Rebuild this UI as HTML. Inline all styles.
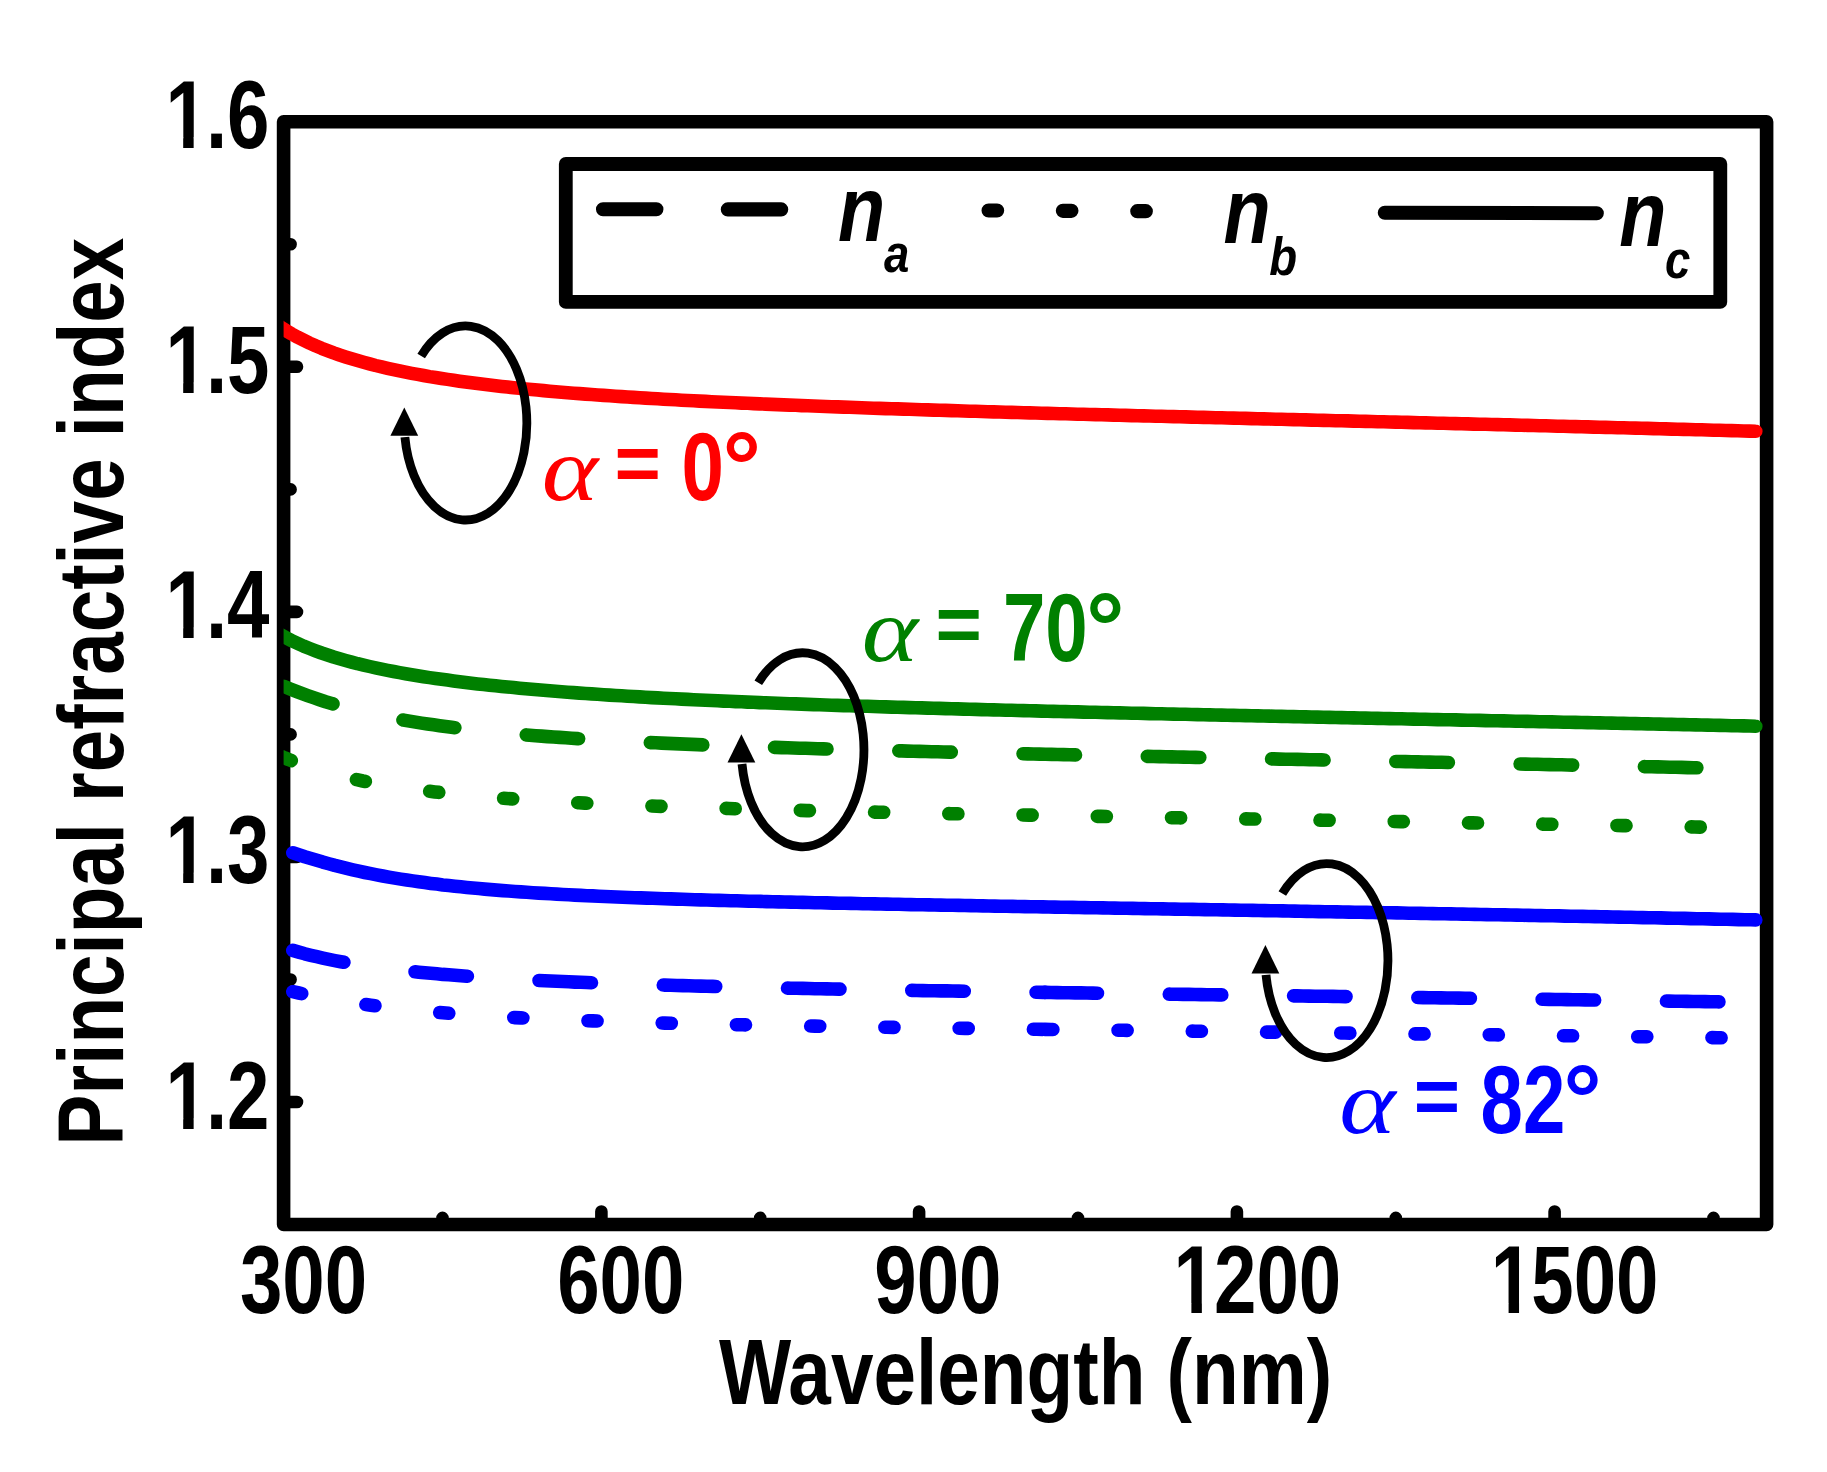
<!DOCTYPE html>
<html lang="en"><head><meta charset="utf-8"><title>Principal refractive index</title>
<style>html,body{margin:0;padding:0;background:#fff}svg{display:block}text{font-family:"Liberation Sans",sans-serif;font-weight:bold}.s{font-family:"Liberation Serif",serif;font-style:italic;font-weight:normal}.i{font-style:italic}.c{fill:none;stroke-width:13.6;stroke-linecap:round;stroke-linejoin:round}</style></head><body>
<svg width="1827" height="1472" viewBox="0 0 1827 1472">
<rect width="1827" height="1472" fill="#fff"/>
<defs><clipPath id="cp"><rect x="283.6" y="100" width="1500" height="1140"/></clipPath><clipPath id="c1"><path clip-rule="evenodd" d="M-10,-100H400V40H-10Z M4,-10.4H22.52V2H4Z M35.76,-10.4H53V2H35.76Z"/></clipPath></defs>
<rect x="283.6" y="121.8" width="1483.0" height="1102.7" fill="none" stroke="#000" stroke-width="13.6" stroke-linejoin="round"/>
<path d="M283.6,366.8h13.4 M283.6,611.9h13.4 M283.6,856.9h13.4 M283.6,1102.0h13.4 M283.6,244.3h7 M283.6,489.4h7 M283.6,734.4h7 M283.6,979.5h7 M601.4,1224.5v-13 M919.1,1224.5v-13 M1236.9,1224.5v-13 M1554.6,1224.5v-13 M442.5,1224.5v-6.6 M760.2,1224.5v-6.6 M1078.0,1224.5v-6.6 M1395.8,1224.5v-6.6 M1713.5,1224.5v-6.6" stroke="#000" stroke-width="12.6" stroke-linecap="round" fill="none"/>
<g clip-path="url(#cp)">
<path class="c" stroke="#f00" d="M273.6,322.4 L279.6,326.5 L285.6,330.3 L291.6,333.9 L297.6,337.2 L303.6,340.2 L309.6,343.1 L315.6,345.8 L321.6,348.3 L327.6,350.6 L333.6,352.9 L339.6,355.0 L345.6,356.9 L351.6,358.8 L357.6,360.6 L363.6,362.3 L369.6,363.9 L375.6,365.5 L381.6,366.9 L387.6,368.3 L393.6,369.6 L399.6,370.9 L405.6,372.1 L411.6,373.3 L417.6,374.4 L423.6,375.5 L429.6,376.6 L435.6,377.5 L441.6,378.5 L447.6,379.4 L453.6,380.3 L459.6,381.2 L465.6,382.0 L471.6,382.8 L477.6,383.6 L483.6,384.3 L489.6,385.0 L495.6,385.7 L501.6,386.4 L507.6,387.1 L513.6,387.7 L519.6,388.3 L525.6,388.9 L531.6,389.5 L537.6,390.1 L543.6,390.6 L549.6,391.2 L555.6,391.7 L561.6,392.2 L567.6,392.7 L573.6,393.2 L579.6,393.6 L585.6,394.1 L591.6,394.5 L597.6,395.0 L603.6,395.4 L609.6,395.8 L615.6,396.2 L621.6,396.6 L627.6,397.0 L633.6,397.4 L639.6,397.8 L645.6,398.1 L651.6,398.5 L657.6,398.8 L663.6,399.2 L669.6,399.5 L675.6,399.8 L681.6,400.2 L687.6,400.5 L693.6,400.8 L699.6,401.1 L705.6,401.4 L711.6,401.7 L717.6,402.0 L723.6,402.3 L729.6,402.5 L735.6,402.8 L741.6,403.1 L747.6,403.3 L753.6,403.6 L759.6,403.9 L765.6,404.1 L771.6,404.4 L777.6,404.6 L783.6,404.9 L789.6,405.1 L795.6,405.3 L801.6,405.6 L807.6,405.8 L813.6,406.0 L819.6,406.2 L825.6,406.5 L831.6,406.7 L837.6,406.9 L843.6,407.1 L849.6,407.3 L855.6,407.5 L861.6,407.7 L867.6,408.0 L873.6,408.2 L879.6,408.4 L885.6,408.6 L891.6,408.7 L897.6,408.9 L903.6,409.1 L909.6,409.3 L915.6,409.5 L921.6,409.7 L927.6,409.9 L933.6,410.1 L939.6,410.3 L945.6,410.4 L951.6,410.6 L957.6,410.8 L963.6,411.0 L969.6,411.2 L975.6,411.3 L981.6,411.5 L987.6,411.7 L993.6,411.9 L999.6,412.0 L1005.6,412.2 L1011.6,412.4 L1017.6,412.5 L1023.6,412.7 L1029.6,412.9 L1035.6,413.0 L1041.6,413.2 L1047.6,413.4 L1053.6,413.5 L1059.6,413.7 L1065.6,413.8 L1071.6,414.0 L1077.6,414.2 L1083.6,414.3 L1089.6,414.5 L1095.6,414.6 L1101.6,414.8 L1107.6,414.9 L1113.6,415.1 L1119.6,415.3 L1125.6,415.4 L1131.6,415.6 L1137.6,415.7 L1143.6,415.9 L1149.6,416.0 L1155.6,416.2 L1161.6,416.3 L1167.6,416.5 L1173.6,416.6 L1179.6,416.8 L1185.6,416.9 L1191.6,417.1 L1197.6,417.2 L1203.6,417.4 L1209.6,417.5 L1215.6,417.7 L1221.6,417.8 L1227.6,418.0 L1233.6,418.1 L1239.6,418.3 L1245.6,418.4 L1251.6,418.6 L1257.6,418.7 L1263.6,418.9 L1269.6,419.0 L1275.6,419.2 L1281.6,419.3 L1287.6,419.5 L1293.6,419.6 L1299.6,419.8 L1305.6,419.9 L1311.6,420.1 L1317.6,420.2 L1323.6,420.4 L1329.6,420.5 L1335.6,420.7 L1341.6,420.8 L1347.6,420.9 L1353.6,421.1 L1359.6,421.2 L1365.6,421.4 L1371.6,421.5 L1377.6,421.7 L1383.6,421.8 L1389.6,422.0 L1395.6,422.1 L1401.6,422.3 L1407.6,422.4 L1413.6,422.6 L1419.6,422.7 L1425.6,422.9 L1431.6,423.0 L1437.6,423.2 L1443.6,423.3 L1449.6,423.5 L1455.6,423.6 L1461.6,423.8 L1467.6,423.9 L1473.6,424.1 L1479.6,424.2 L1485.6,424.3 L1491.6,424.5 L1497.6,424.6 L1503.6,424.8 L1509.6,424.9 L1515.6,425.1 L1521.6,425.2 L1527.6,425.4 L1533.6,425.5 L1539.6,425.7 L1545.6,425.8 L1551.6,426.0 L1557.6,426.2 L1563.6,426.3 L1569.6,426.5 L1575.6,426.6 L1581.6,426.8 L1587.6,426.9 L1593.6,427.1 L1599.6,427.2 L1605.6,427.4 L1611.6,427.5 L1617.6,427.7 L1623.6,427.8 L1629.6,428.0 L1635.6,428.1 L1641.6,428.3 L1647.6,428.4 L1653.6,428.6 L1659.6,428.8 L1665.6,428.9 L1671.6,429.1 L1677.6,429.2 L1683.6,429.4 L1689.6,429.5 L1695.6,429.7 L1701.6,429.8 L1707.6,430.0 L1713.6,430.2 L1719.6,430.3 L1725.6,430.5 L1731.6,430.6 L1737.6,430.8 L1743.6,431.0 L1749.6,431.1 L1755.6,431.3 L1755.8,431.3"/>
<path class="c" stroke="#008000" d="M273.6,630.5 L279.6,634.1 L285.6,637.5 L291.6,640.6 L297.6,643.4 L303.6,646.1 L309.6,648.5 L315.6,650.8 L321.6,653.0 L327.6,655.0 L333.6,657.0 L339.6,658.8 L345.6,660.5 L351.6,662.1 L357.6,663.7 L363.6,665.1 L369.6,666.5 L375.6,667.8 L381.6,669.1 L387.6,670.3 L393.6,671.5 L399.6,672.6 L405.6,673.7 L411.6,674.7 L417.6,675.7 L423.6,676.7 L429.6,677.6 L435.6,678.5 L441.6,679.3 L447.6,680.1 L453.6,680.9 L459.6,681.7 L465.6,682.5 L471.6,683.2 L477.6,683.9 L483.6,684.5 L489.6,685.2 L495.6,685.8 L501.6,686.4 L507.6,687.0 L513.6,687.6 L519.6,688.2 L525.6,688.7 L531.6,689.3 L537.6,689.8 L543.6,690.3 L549.6,690.8 L555.6,691.3 L561.6,691.7 L567.6,692.2 L573.6,692.6 L579.6,693.1 L585.6,693.5 L591.6,693.9 L597.6,694.3 L603.6,694.7 L609.6,695.1 L615.6,695.5 L621.6,695.8 L627.6,696.2 L633.6,696.5 L639.6,696.9 L645.6,697.2 L651.6,697.6 L657.6,697.9 L663.6,698.2 L669.6,698.5 L675.6,698.8 L681.6,699.1 L687.6,699.4 L693.6,699.7 L699.6,700.0 L705.6,700.3 L711.6,700.5 L717.6,700.8 L723.6,701.1 L729.6,701.3 L735.6,701.6 L741.6,701.8 L747.6,702.1 L753.6,702.3 L759.6,702.6 L765.6,702.8 L771.6,703.0 L777.6,703.3 L783.6,703.5 L789.6,703.7 L795.6,703.9 L801.6,704.1 L807.6,704.4 L813.6,704.6 L819.6,704.8 L825.6,705.0 L831.6,705.2 L837.6,705.4 L843.6,705.6 L849.6,705.8 L855.6,706.0 L861.6,706.2 L867.6,706.3 L873.6,706.5 L879.6,706.7 L885.6,706.9 L891.6,707.1 L897.6,707.3 L903.6,707.4 L909.6,707.6 L915.6,707.8 L921.6,707.9 L927.6,708.1 L933.6,708.3 L939.6,708.4 L945.6,708.6 L951.6,708.8 L957.6,708.9 L963.6,709.1 L969.6,709.3 L975.6,709.4 L981.6,709.6 L987.6,709.7 L993.6,709.9 L999.6,710.0 L1005.6,710.2 L1011.6,710.3 L1017.6,710.5 L1023.6,710.6 L1029.6,710.8 L1035.6,710.9 L1041.6,711.1 L1047.6,711.2 L1053.6,711.4 L1059.6,711.5 L1065.6,711.6 L1071.6,711.8 L1077.6,711.9 L1083.6,712.1 L1089.6,712.2 L1095.6,712.3 L1101.6,712.5 L1107.6,712.6 L1113.6,712.8 L1119.6,712.9 L1125.6,713.0 L1131.6,713.2 L1137.6,713.3 L1143.6,713.4 L1149.6,713.6 L1155.6,713.7 L1161.6,713.8 L1167.6,714.0 L1173.6,714.1 L1179.6,714.2 L1185.6,714.3 L1191.6,714.5 L1197.6,714.6 L1203.6,714.7 L1209.6,714.9 L1215.6,715.0 L1221.6,715.1 L1227.6,715.2 L1233.6,715.4 L1239.6,715.5 L1245.6,715.6 L1251.6,715.7 L1257.6,715.9 L1263.6,716.0 L1269.6,716.1 L1275.6,716.3 L1281.6,716.4 L1287.6,716.5 L1293.6,716.6 L1299.6,716.7 L1305.6,716.9 L1311.6,717.0 L1317.6,717.1 L1323.6,717.2 L1329.6,717.4 L1335.6,717.5 L1341.6,717.6 L1347.6,717.7 L1353.6,717.9 L1359.6,718.0 L1365.6,718.1 L1371.6,718.2 L1377.6,718.4 L1383.6,718.5 L1389.6,718.6 L1395.6,718.7 L1401.6,718.8 L1407.6,719.0 L1413.6,719.1 L1419.6,719.2 L1425.6,719.3 L1431.6,719.5 L1437.6,719.6 L1443.6,719.7 L1449.6,719.8 L1455.6,719.9 L1461.6,720.1 L1467.6,720.2 L1473.6,720.3 L1479.6,720.4 L1485.6,720.6 L1491.6,720.7 L1497.6,720.8 L1503.6,720.9 L1509.6,721.0 L1515.6,721.2 L1521.6,721.3 L1527.6,721.4 L1533.6,721.5 L1539.6,721.7 L1545.6,721.8 L1551.6,721.9 L1557.6,722.0 L1563.6,722.2 L1569.6,722.3 L1575.6,722.4 L1581.6,722.5 L1587.6,722.6 L1593.6,722.8 L1599.6,722.9 L1605.6,723.0 L1611.6,723.1 L1617.6,723.3 L1623.6,723.4 L1629.6,723.5 L1635.6,723.6 L1641.6,723.8 L1647.6,723.9 L1653.6,724.0 L1659.6,724.1 L1665.6,724.3 L1671.6,724.4 L1677.6,724.5 L1683.6,724.6 L1689.6,724.8 L1695.6,724.9 L1701.6,725.0 L1707.6,725.1 L1713.6,725.3 L1719.6,725.4 L1725.6,725.5 L1731.6,725.7 L1737.6,725.8 L1743.6,725.9 L1749.6,726.0 L1755.6,726.2 L1755.8,726.2"/>
<path class="c" stroke="#008000" stroke-dasharray="52.5 71.8" d="M283.6,686.2 L289.6,688.7 L295.6,691.1 L301.6,693.4 L307.6,695.6 L313.6,697.7 L319.6,699.7 L325.6,701.7 L331.6,703.5 L337.6,705.2 L343.6,706.9 L349.6,708.5 L355.6,710.1 L361.6,711.5 L367.6,712.9 L373.6,714.2 L379.6,715.5 L385.6,716.7 L391.6,717.9 L397.6,719.0 L403.6,720.1 L409.6,721.1 L415.6,722.1 L421.6,723.1 L427.6,724.0 L433.6,724.8 L439.6,725.7 L445.6,726.5 L451.6,727.3 L457.6,728.0 L463.6,728.7 L469.6,729.4 L475.6,730.1 L481.6,730.7 L487.6,731.4 L493.6,732.0 L499.6,732.5 L505.6,733.1 L511.6,733.7 L517.6,734.2 L523.6,734.7 L529.6,735.2 L535.6,735.7 L541.6,736.1 L547.6,736.6 L553.6,737.0 L559.6,737.4 L565.6,737.8 L571.6,738.2 L577.6,738.6 L583.6,739.0 L589.6,739.4 L595.6,739.7 L601.6,740.1 L607.6,740.4 L613.6,740.7 L619.6,741.1 L625.6,741.4 L631.6,741.7 L637.6,742.0 L643.6,742.3 L649.6,742.6 L655.6,742.8 L661.6,743.1 L667.6,743.4 L673.6,743.6 L679.6,743.9 L685.6,744.1 L691.6,744.4 L697.6,744.6 L703.6,744.9 L709.6,745.1 L715.6,745.3 L721.6,745.6 L727.6,745.8 L733.6,746.0 L739.6,746.2 L745.6,746.4 L751.6,746.6 L757.6,746.8 L763.6,747.0 L769.6,747.2 L775.6,747.4 L781.6,747.6 L787.6,747.8 L793.6,748.0 L799.6,748.2 L805.6,748.3 L811.6,748.5 L817.6,748.7 L823.6,748.9 L829.6,749.0 L835.6,749.2 L841.6,749.4 L847.6,749.5 L853.6,749.7 L859.6,749.9 L865.6,750.0 L871.6,750.2 L877.6,750.3 L883.6,750.5 L889.6,750.6 L895.6,750.8 L901.6,750.9 L907.6,751.1 L913.6,751.2 L919.6,751.4 L925.6,751.5 L931.6,751.7 L937.6,751.8 L943.6,752.0 L949.6,752.1 L955.6,752.2 L961.6,752.4 L967.6,752.5 L973.6,752.7 L979.6,752.8 L985.6,752.9 L991.6,753.1 L997.6,753.2 L1003.6,753.3 L1009.6,753.5 L1015.6,753.6 L1021.6,753.7 L1027.6,753.9 L1033.6,754.0 L1039.6,754.1 L1045.6,754.3 L1051.6,754.4 L1057.6,754.5 L1063.6,754.6 L1069.6,754.8 L1075.6,754.9 L1081.6,755.0 L1087.6,755.1 L1093.6,755.3 L1099.6,755.4 L1105.6,755.5 L1111.6,755.6 L1117.6,755.8 L1123.6,755.9 L1129.6,756.0 L1135.6,756.1 L1141.6,756.3 L1147.6,756.4 L1153.6,756.5 L1159.6,756.6 L1165.6,756.8 L1171.6,756.9 L1177.6,757.0 L1183.6,757.1 L1189.6,757.2 L1195.6,757.4 L1201.6,757.5 L1207.6,757.6 L1213.6,757.7 L1219.6,757.9 L1225.6,758.0 L1231.6,758.1 L1237.6,758.2 L1243.6,758.3 L1249.6,758.5 L1255.6,758.6 L1261.6,758.7 L1267.6,758.8 L1273.6,758.9 L1279.6,759.1 L1285.6,759.2 L1291.6,759.3 L1297.6,759.4 L1303.6,759.5 L1309.6,759.7 L1315.6,759.8 L1321.6,759.9 L1327.6,760.0 L1333.6,760.1 L1339.6,760.3 L1345.6,760.4 L1351.6,760.5 L1357.6,760.6 L1363.6,760.8 L1369.6,760.9 L1375.6,761.0 L1381.6,761.1 L1387.6,761.2 L1393.6,761.4 L1399.6,761.5 L1405.6,761.6 L1411.6,761.7 L1417.6,761.9 L1423.6,762.0 L1429.6,762.1 L1435.6,762.2 L1441.6,762.3 L1447.6,762.5 L1453.6,762.6 L1459.6,762.7 L1465.6,762.8 L1471.6,763.0 L1477.6,763.1 L1483.6,763.2 L1489.6,763.3 L1495.6,763.5 L1501.6,763.6 L1507.6,763.7 L1513.6,763.8 L1519.6,764.0 L1525.6,764.1 L1531.6,764.2 L1537.6,764.3 L1543.6,764.5 L1549.6,764.6 L1555.6,764.7 L1561.6,764.8 L1567.6,765.0 L1573.6,765.1 L1579.6,765.2 L1585.6,765.4 L1591.6,765.5 L1597.6,765.6 L1603.6,765.7 L1609.6,765.9 L1615.6,766.0 L1621.6,766.1 L1627.6,766.3 L1633.6,766.4 L1639.6,766.5 L1645.6,766.7 L1651.6,766.8 L1657.6,766.9 L1663.6,767.0 L1669.6,767.2 L1675.6,767.3 L1681.6,767.4 L1687.6,767.6 L1693.6,767.7 L1699.6,767.8 L1705.6,768.0 L1711.6,768.1 L1717.6,768.2 L1723.6,768.4 L1729.6,768.5 L1735.6,768.6 L1741.6,768.8 L1747.6,768.9 L1753.6,769.1 L1755.8,769.1"/>
<path class="c" stroke="#008000" d="M281.6,756.6 L284.6,757.9 L287.6,759.1 L290.6,760.3 L291.3,760.6"/>
<path class="c" stroke="#008000" stroke-dasharray="9.1 65.15" stroke-dashoffset="18.6" d="M302.8,764.9 L308.8,767.0 L314.8,768.9 L320.8,770.7 L326.8,772.4 L332.8,774.1 L338.8,775.6 L344.8,777.0 L350.8,778.4 L356.8,779.7 L362.8,781.0 L368.8,782.1 L374.8,783.2 L380.8,784.3 L386.8,785.3 L392.8,786.3 L398.8,787.2 L404.8,788.1 L410.8,788.9 L416.8,789.7 L422.8,790.5 L428.8,791.2 L434.8,791.9 L440.8,792.6 L446.8,793.2 L452.8,793.9 L458.8,794.4 L464.8,795.0 L470.8,795.6 L476.8,796.1 L482.8,796.6 L488.8,797.1 L494.8,797.6 L500.8,798.0 L506.8,798.5 L512.8,798.9 L518.8,799.3 L524.8,799.7 L530.8,800.1 L536.8,800.5 L542.8,800.9 L548.8,801.2 L554.8,801.6 L560.8,801.9 L566.8,802.2 L572.8,802.5 L578.8,802.8 L584.8,803.1 L590.8,803.4 L596.8,803.7 L602.8,804.0 L608.8,804.3 L614.8,804.5 L620.8,804.8 L626.8,805.0 L632.8,805.3 L638.8,805.5 L644.8,805.7 L650.8,806.0 L656.8,806.2 L662.8,806.4 L668.8,806.6 L674.8,806.8 L680.8,807.0 L686.8,807.2 L692.8,807.4 L698.8,807.6 L704.8,807.8 L710.8,808.0 L716.8,808.2 L722.8,808.3 L728.8,808.5 L734.8,808.7 L740.8,808.9 L746.8,809.0 L752.8,809.2 L758.8,809.4 L764.8,809.5 L770.8,809.7 L776.8,809.8 L782.8,810.0 L788.8,810.1 L794.8,810.3 L800.8,810.4 L806.8,810.6 L812.8,810.7 L818.8,810.9 L824.8,811.0 L830.8,811.2 L836.8,811.3 L842.8,811.4 L848.8,811.6 L854.8,811.7 L860.8,811.8 L866.8,812.0 L872.8,812.1 L878.8,812.2 L884.8,812.3 L890.8,812.5 L896.8,812.6 L902.8,812.7 L908.8,812.8 L914.8,813.0 L920.8,813.1 L926.8,813.2 L932.8,813.3 L938.8,813.4 L944.8,813.6 L950.8,813.7 L956.8,813.8 L962.8,813.9 L968.8,814.0 L974.8,814.1 L980.8,814.2 L986.8,814.4 L992.8,814.5 L998.8,814.6 L1004.8,814.7 L1010.8,814.8 L1016.8,814.9 L1022.8,815.0 L1028.8,815.1 L1034.8,815.2 L1040.8,815.3 L1046.8,815.5 L1052.8,815.6 L1058.8,815.7 L1064.8,815.8 L1070.8,815.9 L1076.8,816.0 L1082.8,816.1 L1088.8,816.2 L1094.8,816.3 L1100.8,816.4 L1106.8,816.5 L1112.8,816.6 L1118.8,816.7 L1124.8,816.8 L1130.8,816.9 L1136.8,817.0 L1142.8,817.1 L1148.8,817.3 L1154.8,817.4 L1160.8,817.5 L1166.8,817.6 L1172.8,817.7 L1178.8,817.8 L1184.8,817.9 L1190.8,818.0 L1196.8,818.1 L1202.8,818.2 L1208.8,818.3 L1214.8,818.4 L1220.8,818.5 L1226.8,818.6 L1232.8,818.7 L1238.8,818.8 L1244.8,818.9 L1250.8,819.0 L1256.8,819.1 L1262.8,819.2 L1268.8,819.3 L1274.8,819.4 L1280.8,819.5 L1286.8,819.6 L1292.8,819.7 L1298.8,819.8 L1304.8,819.9 L1310.8,820.0 L1316.8,820.1 L1322.8,820.2 L1328.8,820.3 L1334.8,820.4 L1340.8,820.5 L1346.8,820.7 L1352.8,820.8 L1358.8,820.9 L1364.8,821.0 L1370.8,821.1 L1376.8,821.2 L1382.8,821.3 L1388.8,821.4 L1394.8,821.5 L1400.8,821.6 L1406.8,821.7 L1412.8,821.8 L1418.8,821.9 L1424.8,822.0 L1430.8,822.1 L1436.8,822.2 L1442.8,822.3 L1448.8,822.4 L1454.8,822.5 L1460.8,822.6 L1466.8,822.8 L1472.8,822.9 L1478.8,823.0 L1484.8,823.1 L1490.8,823.2 L1496.8,823.3 L1502.8,823.4 L1508.8,823.5 L1514.8,823.6 L1520.8,823.7 L1526.8,823.8 L1532.8,823.9 L1538.8,824.0 L1544.8,824.2 L1550.8,824.3 L1556.8,824.4 L1562.8,824.5 L1568.8,824.6 L1574.8,824.7 L1580.8,824.8 L1586.8,824.9 L1592.8,825.0 L1598.8,825.1 L1604.8,825.3 L1610.8,825.4 L1616.8,825.5 L1622.8,825.6 L1628.8,825.7 L1634.8,825.8 L1640.8,825.9 L1646.8,826.0 L1652.8,826.2 L1658.8,826.3 L1664.8,826.4 L1670.8,826.5 L1676.8,826.6 L1682.8,826.7 L1688.8,826.8 L1694.8,827.0 L1700.8,827.1 L1706.8,827.2 L1712.8,827.3 L1718.8,827.4 L1724.8,827.5 L1730.8,827.6 L1736.8,827.8 L1742.8,827.9 L1748.8,828.0 L1754.8,828.1 L1755.8,828.1"/>
<path class="c" stroke="#00f" d="M292.8,852.8 L298.8,854.7 L304.8,856.7 L310.8,858.5 L316.8,860.3 L322.8,862.1 L328.8,863.7 L334.8,865.4 L340.8,866.9 L346.8,868.4 L352.8,869.8 L358.8,871.2 L364.8,872.5 L370.8,873.7 L376.8,874.9 L382.8,876.0 L388.8,877.1 L394.8,878.1 L400.8,879.1 L406.8,880.0 L412.8,880.9 L418.8,881.8 L424.8,882.6 L430.8,883.4 L436.8,884.1 L442.8,884.9 L448.8,885.5 L454.8,886.2 L460.8,886.8 L466.8,887.4 L472.8,888.0 L478.8,888.6 L484.8,889.1 L490.8,889.6 L496.8,890.1 L502.8,890.6 L508.8,891.0 L514.8,891.5 L520.8,891.9 L526.8,892.3 L532.8,892.7 L538.8,893.1 L544.8,893.4 L550.8,893.8 L556.8,894.1 L562.8,894.5 L568.8,894.8 L574.8,895.1 L580.8,895.4 L586.8,895.7 L592.8,895.9 L598.8,896.2 L604.8,896.5 L610.8,896.7 L616.8,897.0 L622.8,897.2 L628.8,897.5 L634.8,897.7 L640.8,897.9 L646.8,898.1 L652.8,898.3 L658.8,898.5 L664.8,898.7 L670.8,898.9 L676.8,899.1 L682.8,899.3 L688.8,899.5 L694.8,899.7 L700.8,899.9 L706.8,900.0 L712.8,900.2 L718.8,900.4 L724.8,900.5 L730.8,900.7 L736.8,900.8 L742.8,901.0 L748.8,901.2 L754.8,901.3 L760.8,901.4 L766.8,901.6 L772.8,901.7 L778.8,901.9 L784.8,902.0 L790.8,902.1 L796.8,902.3 L802.8,902.4 L808.8,902.5 L814.8,902.7 L820.8,902.8 L826.8,902.9 L832.8,903.1 L838.8,903.2 L844.8,903.3 L850.8,903.4 L856.8,903.5 L862.8,903.7 L868.8,903.8 L874.8,903.9 L880.8,904.0 L886.8,904.1 L892.8,904.2 L898.8,904.3 L904.8,904.5 L910.8,904.6 L916.8,904.7 L922.8,904.8 L928.8,904.9 L934.8,905.0 L940.8,905.1 L946.8,905.2 L952.8,905.3 L958.8,905.4 L964.8,905.5 L970.8,905.6 L976.8,905.8 L982.8,905.9 L988.8,906.0 L994.8,906.1 L1000.8,906.2 L1006.8,906.3 L1012.8,906.4 L1018.8,906.5 L1024.8,906.6 L1030.8,906.7 L1036.8,906.8 L1042.8,906.9 L1048.8,907.0 L1054.8,907.1 L1060.8,907.2 L1066.8,907.3 L1072.8,907.4 L1078.8,907.5 L1084.8,907.6 L1090.8,907.7 L1096.8,907.8 L1102.8,907.9 L1108.8,908.0 L1114.8,908.1 L1120.8,908.2 L1126.8,908.3 L1132.8,908.4 L1138.8,908.5 L1144.8,908.6 L1150.8,908.7 L1156.8,908.8 L1162.8,908.9 L1168.8,909.0 L1174.8,909.1 L1180.8,909.2 L1186.8,909.3 L1192.8,909.4 L1198.8,909.5 L1204.8,909.6 L1210.8,909.7 L1216.8,909.8 L1222.8,909.9 L1228.8,910.0 L1234.8,910.1 L1240.8,910.2 L1246.8,910.3 L1252.8,910.4 L1258.8,910.5 L1264.8,910.6 L1270.8,910.7 L1276.8,910.8 L1282.8,910.9 L1288.8,911.0 L1294.8,911.1 L1300.8,911.2 L1306.8,911.4 L1312.8,911.5 L1318.8,911.6 L1324.8,911.7 L1330.8,911.8 L1336.8,911.9 L1342.8,912.0 L1348.8,912.1 L1354.8,912.2 L1360.8,912.3 L1366.8,912.4 L1372.8,912.5 L1378.8,912.6 L1384.8,912.7 L1390.8,912.8 L1396.8,912.9 L1402.8,913.0 L1408.8,913.2 L1414.8,913.3 L1420.8,913.4 L1426.8,913.5 L1432.8,913.6 L1438.8,913.7 L1444.8,913.8 L1450.8,913.9 L1456.8,914.0 L1462.8,914.1 L1468.8,914.2 L1474.8,914.4 L1480.8,914.5 L1486.8,914.6 L1492.8,914.7 L1498.8,914.8 L1504.8,914.9 L1510.8,915.0 L1516.8,915.1 L1522.8,915.3 L1528.8,915.4 L1534.8,915.5 L1540.8,915.6 L1546.8,915.7 L1552.8,915.8 L1558.8,915.9 L1564.8,916.1 L1570.8,916.2 L1576.8,916.3 L1582.8,916.4 L1588.8,916.5 L1594.8,916.6 L1600.8,916.8 L1606.8,916.9 L1612.8,917.0 L1618.8,917.1 L1624.8,917.2 L1630.8,917.3 L1636.8,917.5 L1642.8,917.6 L1648.8,917.7 L1654.8,917.8 L1660.8,917.9 L1666.8,918.1 L1672.8,918.2 L1678.8,918.3 L1684.8,918.4 L1690.8,918.6 L1696.8,918.7 L1702.8,918.8 L1708.8,918.9 L1714.8,919.1 L1720.8,919.2 L1726.8,919.3 L1732.8,919.4 L1738.8,919.6 L1744.8,919.7 L1750.8,919.8 L1755.8,919.9"/>
<path class="c" stroke="#00f" stroke-dasharray="52.5 71.8" d="M292.8,950.4 L298.8,952.1 L304.8,953.8 L310.8,955.3 L316.8,956.7 L322.8,958.1 L328.8,959.4 L334.8,960.6 L340.8,961.7 L346.8,962.8 L352.8,963.8 L358.8,964.7 L364.8,965.7 L370.8,966.5 L376.8,967.4 L382.8,968.1 L388.8,968.9 L394.8,969.6 L400.8,970.3 L406.8,971.0 L412.8,971.6 L418.8,972.2 L424.8,972.8 L430.8,973.3 L436.8,973.8 L442.8,974.4 L448.8,974.8 L454.8,975.3 L460.8,975.8 L466.8,976.2 L472.8,976.6 L478.8,977.0 L484.8,977.4 L490.8,977.8 L496.8,978.2 L502.8,978.5 L508.8,978.9 L514.8,979.2 L520.8,979.5 L526.8,979.9 L532.8,980.2 L538.8,980.5 L544.8,980.7 L550.8,981.0 L556.8,981.3 L562.8,981.5 L568.8,981.8 L574.8,982.1 L580.8,982.3 L586.8,982.5 L592.8,982.8 L598.8,983.0 L604.8,983.2 L610.8,983.4 L616.8,983.6 L622.8,983.8 L628.8,984.0 L634.8,984.2 L640.8,984.4 L646.8,984.6 L652.8,984.8 L658.8,985.0 L664.8,985.1 L670.8,985.3 L676.8,985.5 L682.8,985.6 L688.8,985.8 L694.8,986.0 L700.8,986.1 L706.8,986.3 L712.8,986.4 L718.8,986.6 L724.8,986.7 L730.8,986.9 L736.8,987.0 L742.8,987.1 L748.8,987.3 L754.8,987.4 L760.8,987.5 L766.8,987.7 L772.8,987.8 L778.8,987.9 L784.8,988.1 L790.8,988.2 L796.8,988.3 L802.8,988.4 L808.8,988.5 L814.8,988.7 L820.8,988.8 L826.8,988.9 L832.8,989.0 L838.8,989.1 L844.8,989.2 L850.8,989.3 L856.8,989.4 L862.8,989.5 L868.8,989.6 L874.8,989.8 L880.8,989.9 L886.8,990.0 L892.8,990.1 L898.8,990.2 L904.8,990.3 L910.8,990.4 L916.8,990.5 L922.8,990.6 L928.8,990.7 L934.8,990.8 L940.8,990.9 L946.8,990.9 L952.8,991.0 L958.8,991.1 L964.8,991.2 L970.8,991.3 L976.8,991.4 L982.8,991.5 L988.8,991.6 L994.8,991.7 L1000.8,991.8 L1006.8,991.9 L1012.8,992.0 L1018.8,992.0 L1024.8,992.1 L1030.8,992.2 L1036.8,992.3 L1042.8,992.4 L1045.0,992.4"/>
<path class="c" stroke="#00f" stroke-dasharray="52.5 71.8" d="M1045.0,992.4 L1051.0,992.5 L1057.0,992.6 L1063.0,992.7 L1069.0,992.8 L1075.0,992.9 L1081.0,992.9 L1087.0,993.0 L1093.0,993.1 L1099.0,993.2 L1105.0,993.3 L1111.0,993.4 L1117.0,993.5 L1123.0,993.5 L1129.0,993.6 L1135.0,993.7 L1141.0,993.8 L1147.0,993.9 L1153.0,993.9 L1159.0,994.0 L1165.0,994.1 L1171.0,994.2 L1177.0,994.3 L1183.0,994.4 L1189.0,994.4 L1195.0,994.5 L1201.0,994.6 L1207.0,994.7 L1213.0,994.8 L1219.0,994.9 L1225.0,994.9 L1231.0,995.0 L1237.0,995.1 L1243.0,995.2 L1249.0,995.3 L1255.0,995.3 L1261.0,995.4 L1267.0,995.5 L1273.0,995.6 L1279.0,995.7 L1285.0,995.7 L1291.0,995.8 L1297.0,995.9 L1303.0,996.0 L1309.0,996.1 L1315.0,996.2 L1321.0,996.2 L1327.0,996.3 L1333.0,996.4 L1339.0,996.5 L1345.0,996.6 L1351.0,996.6 L1357.0,996.7 L1363.0,996.8 L1369.0,996.9 L1375.0,997.0 L1381.0,997.0 L1387.0,997.1 L1393.0,997.2 L1399.0,997.3 L1405.0,997.4 L1411.0,997.5 L1417.0,997.5 L1423.0,997.6 L1429.0,997.7 L1435.0,997.8 L1441.0,997.9 L1447.0,998.0 L1453.0,998.0 L1459.0,998.1 L1465.0,998.2 L1471.0,998.3 L1477.0,998.4 L1483.0,998.4 L1489.0,998.5 L1495.0,998.6 L1501.0,998.7 L1507.0,998.8 L1513.0,998.9 L1519.0,999.0 L1525.0,999.0 L1531.0,999.1 L1537.0,999.2 L1543.0,999.3 L1549.0,999.4 L1555.0,999.5 L1561.0,999.5 L1567.0,999.6 L1573.0,999.7 L1579.0,999.8 L1585.0,999.9 L1591.0,1000.0 L1597.0,1000.1 L1603.0,1000.1 L1609.0,1000.2 L1615.0,1000.3 L1621.0,1000.4 L1627.0,1000.5 L1633.0,1000.6 L1639.0,1000.7 L1645.0,1000.8 L1651.0,1000.8 L1657.0,1000.9 L1663.0,1001.0 L1669.0,1001.1 L1675.0,1001.2 L1681.0,1001.3 L1687.0,1001.4 L1693.0,1001.5 L1699.0,1001.5 L1705.0,1001.6 L1711.0,1001.7 L1717.0,1001.8 L1723.0,1001.9 L1729.0,1002.0 L1735.0,1002.1 L1741.0,1002.2 L1747.0,1002.3 L1753.0,1002.4 L1755.8,1002.4"/>
<path class="c" stroke="#00f" stroke-dasharray="9.1 65.15" d="M292.8,991.7 L298.8,993.0 L304.8,994.2 L310.8,995.3 L316.8,996.5 L322.8,997.6 L328.8,998.7 L334.8,999.7 L340.8,1000.7 L346.8,1001.7 L352.8,1002.6 L358.8,1003.5 L364.8,1004.4 L370.8,1005.2 L376.8,1006.0 L382.8,1006.7 L388.8,1007.5 L394.8,1008.2 L400.8,1008.8 L406.8,1009.5 L412.8,1010.1 L418.8,1010.7 L424.8,1011.2 L430.8,1011.8 L436.8,1012.3 L442.8,1012.8 L448.8,1013.3 L454.8,1013.8 L460.8,1014.2 L466.8,1014.6 L472.8,1015.1 L478.8,1015.5 L484.8,1015.8 L490.8,1016.2 L496.8,1016.6 L502.8,1016.9 L508.8,1017.2 L514.8,1017.6 L520.8,1017.9 L526.8,1018.2 L532.8,1018.5 L538.8,1018.7 L544.8,1019.0 L550.8,1019.3 L556.8,1019.5 L562.8,1019.8 L568.8,1020.0 L574.8,1020.3 L580.8,1020.5 L586.8,1020.7 L592.8,1020.9 L598.8,1021.1 L604.8,1021.3 L610.8,1021.5 L616.8,1021.7 L622.8,1021.9 L628.8,1022.1 L634.8,1022.2 L640.8,1022.4 L646.8,1022.6 L652.8,1022.8 L658.8,1022.9 L664.8,1023.1 L670.8,1023.2 L676.8,1023.4 L682.8,1023.5 L688.8,1023.7 L694.8,1023.8 L700.8,1023.9 L706.8,1024.1 L712.8,1024.2 L718.8,1024.3 L724.8,1024.5 L730.8,1024.6 L736.8,1024.7 L742.8,1024.8 L748.8,1025.0 L754.8,1025.1 L760.8,1025.2 L766.8,1025.3 L772.8,1025.4 L778.8,1025.5 L784.8,1025.6 L790.8,1025.7 L796.8,1025.8 L802.8,1025.9 L808.8,1026.0 L814.8,1026.1 L820.8,1026.2 L826.8,1026.3 L832.8,1026.4 L838.8,1026.5 L844.8,1026.6 L850.8,1026.7 L856.8,1026.8 L862.8,1026.9 L868.8,1027.0 L874.8,1027.1 L880.8,1027.2 L886.8,1027.3 L892.8,1027.4 L898.8,1027.4 L904.8,1027.5 L910.8,1027.6 L916.8,1027.7 L922.8,1027.8 L928.8,1027.9 L934.8,1027.9 L940.8,1028.0 L946.8,1028.1 L952.8,1028.2 L958.8,1028.3 L964.8,1028.4 L970.8,1028.4 L976.8,1028.5 L982.8,1028.6 L988.8,1028.7 L994.8,1028.7 L1000.8,1028.8 L1006.8,1028.9 L1012.8,1029.0 L1018.8,1029.1 L1024.8,1029.1 L1030.8,1029.2 L1036.8,1029.3 L1042.8,1029.4 L1045.0,1029.4"/>
<path class="c" stroke="#00f" stroke-dasharray="9.1 65.15" stroke-dashoffset="1.2" d="M1045.0,1029.4 L1051.0,1029.5 L1057.0,1029.5 L1063.0,1029.6 L1069.0,1029.7 L1075.0,1029.8 L1081.0,1029.8 L1087.0,1029.9 L1093.0,1030.0 L1099.0,1030.0 L1105.0,1030.1 L1111.0,1030.2 L1117.0,1030.3 L1123.0,1030.3 L1129.0,1030.4 L1135.0,1030.5 L1141.0,1030.6 L1147.0,1030.6 L1153.0,1030.7 L1159.0,1030.8 L1165.0,1030.8 L1171.0,1030.9 L1177.0,1031.0 L1183.0,1031.1 L1189.0,1031.1 L1195.0,1031.2 L1201.0,1031.3 L1207.0,1031.3 L1213.0,1031.4 L1219.0,1031.5 L1225.0,1031.6 L1231.0,1031.6 L1237.0,1031.7 L1243.0,1031.8 L1249.0,1031.8 L1255.0,1031.9 L1261.0,1032.0 L1267.0,1032.1 L1273.0,1032.1 L1279.0,1032.2 L1285.0,1032.3 L1291.0,1032.3 L1297.0,1032.4 L1303.0,1032.5 L1309.0,1032.6 L1315.0,1032.6 L1321.0,1032.7 L1327.0,1032.8 L1333.0,1032.8 L1339.0,1032.9 L1345.0,1033.0 L1351.0,1033.1 L1357.0,1033.1 L1363.0,1033.2 L1369.0,1033.3 L1375.0,1033.3 L1381.0,1033.4 L1387.0,1033.5 L1393.0,1033.6 L1399.0,1033.6 L1405.0,1033.7 L1411.0,1033.8 L1417.0,1033.9 L1423.0,1033.9 L1429.0,1034.0 L1435.0,1034.1 L1441.0,1034.2 L1447.0,1034.2 L1453.0,1034.3 L1459.0,1034.4 L1465.0,1034.4 L1471.0,1034.5 L1477.0,1034.6 L1483.0,1034.7 L1489.0,1034.7 L1495.0,1034.8 L1501.0,1034.9 L1507.0,1035.0 L1513.0,1035.0 L1519.0,1035.1 L1525.0,1035.2 L1531.0,1035.3 L1537.0,1035.4 L1543.0,1035.4 L1549.0,1035.5 L1555.0,1035.6 L1561.0,1035.7 L1567.0,1035.7 L1573.0,1035.8 L1579.0,1035.9 L1585.0,1036.0 L1591.0,1036.0 L1597.0,1036.1 L1603.0,1036.2 L1609.0,1036.3 L1615.0,1036.4 L1621.0,1036.4 L1627.0,1036.5 L1633.0,1036.6 L1639.0,1036.7 L1645.0,1036.7 L1651.0,1036.8 L1657.0,1036.9 L1663.0,1037.0 L1669.0,1037.1 L1675.0,1037.1 L1681.0,1037.2 L1687.0,1037.3 L1693.0,1037.4 L1699.0,1037.5 L1705.0,1037.6 L1711.0,1037.6 L1717.0,1037.7 L1723.0,1037.8 L1729.0,1037.9 L1735.0,1038.0 L1741.0,1038.0 L1747.0,1038.1 L1753.0,1038.2 L1755.8,1038.2"/>
</g>
<rect x="565.8" y="164" width="1154.5" height="137.9" fill="#fff" stroke="#000" stroke-width="13.8" stroke-linejoin="round"/>
<path d="M603,209.2H656.4 M727.8,209.4H781.2" stroke="#000" stroke-width="14.1" stroke-linecap="round"/>
<path d="M988.6,210.5h8.5 M1062.9,210.8h8.5 M1137.3,211.2h8.5" stroke="#000" stroke-width="14.2" stroke-linecap="round"/>
<path d="M1384.8,212.8L1596.8,213.2" stroke="#000" stroke-width="14.1" stroke-linecap="round"/>
<text class="i" font-size="92" transform="translate(838.1,240.7) scale(0.84,1)">n</text>
<text class="i" font-size="53" transform="translate(883.9,272.0) scale(0.86,1)">a</text>
<text class="i" font-size="92" transform="translate(1223.5,243.2) scale(0.84,1)">n</text>
<text class="i" font-size="53" transform="translate(1269.3,274.7) scale(0.86,1)">b</text>
<text class="i" font-size="92" transform="translate(1619.2,245.7) scale(0.84,1)">n</text>
<text class="i" font-size="53" transform="translate(1665.1,278.3) scale(0.86,1)">c</text>
<path d="M421.2,356.0A61.3,97.0 0 1 1 404.9,437.2" fill="none" stroke="#000" stroke-width="8.8"/>
<path d="M404.3,407.4l13.9,28.4h-27.8z" fill="#000"/>
<path d="M758.3,682.8A61.3,97.0 0 1 1 742.0,764.0" fill="none" stroke="#000" stroke-width="8.8"/>
<path d="M741.4,734.2l13.9,28.4h-27.8z" fill="#000"/>
<path d="M1282.3,893.6A61.3,97.0 0 1 1 1266.0,974.8" fill="none" stroke="#000" stroke-width="8.8"/>
<path d="M1265.4,945.0l13.9,28.4h-27.8z" fill="#000"/>
<text fill="#f00" font-size="96.5" transform="translate(0,499.5) scale(0.79,1)"><tspan class="s" font-size="92" x="685.7" textLength="71.4" lengthAdjust="spacingAndGlyphs">α</tspan> <tspan font-size="79.1" x="778.0" dy="-9.4" textLength="58.7" lengthAdjust="spacingAndGlyphs">=</tspan> <tspan x="862.8" dy="9.4">0</tspan><tspan x="914.5" textLength="48.8" lengthAdjust="spacingAndGlyphs">°</tspan></text>
<text fill="#008000" font-size="96.5" transform="translate(0,660.7) scale(0.79,1)"><tspan class="s" font-size="92" x="1090.8" textLength="71.4" lengthAdjust="spacingAndGlyphs">α</tspan> <tspan font-size="79.1" x="1184.1" dy="-9.4" textLength="58.7" lengthAdjust="spacingAndGlyphs">=</tspan> <tspan x="1269.5" dy="9.4">70</tspan><tspan x="1374.6" textLength="48.8" lengthAdjust="spacingAndGlyphs">°</tspan></text>
<text fill="#00f" font-size="96.5" transform="translate(0,1132.5) scale(0.79,1)"><tspan class="s" font-size="92" x="1695.4" textLength="71.4" lengthAdjust="spacingAndGlyphs">α</tspan> <tspan font-size="79.1" x="1789.6" dy="-9.4" textLength="58.7" lengthAdjust="spacingAndGlyphs">=</tspan> <tspan x="1874.2" dy="9.4">82</tspan><tspan x="1978.7" textLength="48.8" lengthAdjust="spacingAndGlyphs">°</tspan></text>
<text clip-path="url(#c1)" font-size="96.5" dx="0 -2.4" transform="translate(165.4,147.7) scale(0.79,1)">1.6</text>
<text clip-path="url(#c1)" font-size="96.5" dx="0 -2.4" transform="translate(165.4,392.8) scale(0.79,1)">1.5</text>
<text clip-path="url(#c1)" font-size="96.5" dx="0 -2.4" transform="translate(165.4,637.8) scale(0.79,1)">1.4</text>
<text clip-path="url(#c1)" font-size="96.5" dx="0 -2.4" transform="translate(165.4,883.2) scale(0.79,1)">1.3</text>
<text clip-path="url(#c1)" font-size="96.5" dx="0 -2.4" transform="translate(165.4,1129.0) scale(0.79,1)">1.2</text>
<text font-size="96.5" transform="translate(239.9,1313.3) scale(0.79,1)">300</text>
<text font-size="96.5" transform="translate(557.2,1313.3) scale(0.79,1)">600</text>
<text font-size="96.5" transform="translate(874.3,1313.3) scale(0.79,1)">900</text>
<text clip-path="url(#c1)" font-size="96.5" dx="0 -2.4" transform="translate(1173.6,1313.3) scale(0.79,1)">1200</text>
<text clip-path="url(#c1)" font-size="96.5" dx="0 -2.4" transform="translate(1490.8,1313.3) scale(0.79,1)">1500</text>
<text font-size="92.5" transform="translate(719.0,1404.3) scale(0.827,1)">Wavelength (nm)</text>
<text font-size="92.5" transform="translate(122.8,1145.4) rotate(-90) scale(0.825,1)">Principal refractive index</text>
</svg></body></html>
